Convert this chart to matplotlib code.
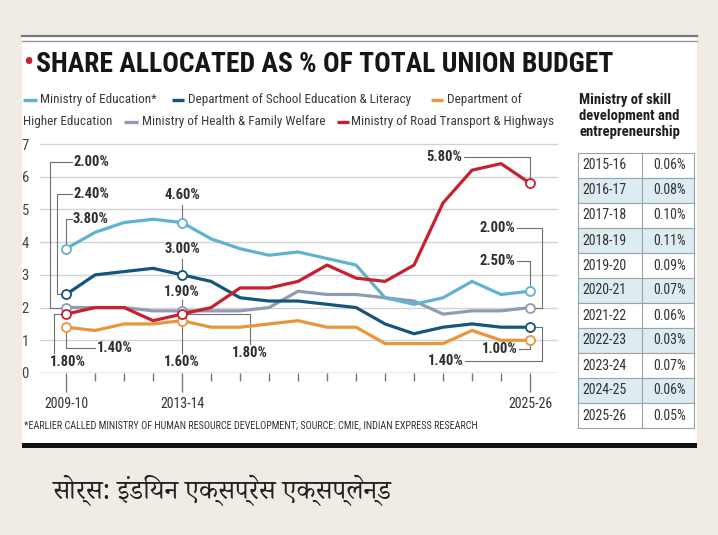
import matplotlib
matplotlib.use('Agg')
import matplotlib.pyplot as plt
from matplotlib import font_manager as fm
from matplotlib.ft2font import FT2Font
from matplotlib.patches import Rectangle
from matplotlib.lines import Line2D

# ---------------- data ----------------
years = ['2009-10', '2010-11', '2011-12', '2012-13', '2013-14', '2014-15', '2015-16',
         '2016-17', '2017-18', '2018-19', '2019-20', '2020-21', '2021-22', '2022-23',
         '2023-24', '2024-25', '2025-26']
edu = [3.8, 4.3, 4.6, 4.7, 4.6, 4.1, 3.8, 3.6, 3.7, 3.5, 3.3, 2.3, 2.1, 2.3, 2.8, 2.4, 2.5]
school = [2.4, 3.0, 3.1, 3.2, 3.0, 2.8, 2.3, 2.2, 2.2, 2.1, 2.0, 1.5, 1.2, 1.4, 1.5, 1.4, 1.4]
higher = [1.4, 1.3, 1.5, 1.5, 1.6, 1.4, 1.4, 1.5, 1.6, 1.4, 1.4, 0.9, 0.9, 0.9, 1.3, 1.0, 1.0]
health = [2.0, 2.0, 2.0, 1.9, 1.9, 1.9, 1.9, 2.0, 2.5, 2.4, 2.4, 2.3, 2.2, 1.8, 1.9, 1.9, 2.0]
road = [1.8, 2.0, 2.0, 1.6, 1.8, 2.0, 2.6, 2.6, 2.8, 3.3, 2.9, 2.8, 3.3, 5.2, 6.2, 6.4, 5.8]
shown_years = ['2009-10', '2013-14', '2025-26']
y_ticks = [0, 1, 2, 3, 4, 5, 6, 7]

skill_years = ['2015-16', '2016-17', '2017-18', '2018-19', '2019-20', '2020-21',
               '2021-22', '2022-23', '2023-24', '2024-25', '2025-26']
skill_vals = [0.06, 0.08, 0.10, 0.11, 0.09, 0.07, 0.06, 0.03, 0.07, 0.06, 0.05]

title = 'SHARE ALLOCATED AS % OF TOTAL UNION BUDGET'
legend_names = ['Ministry of Education*', 'Department of School Education & Literacy',
                'Department of Higher Education', 'Ministry of Health & Family Welfare',
                'Ministry of Road Transport & Highways']
footnote = '*EARLIER CALLED MINISTRY OF HUMAN RESOURCE DEVELOPMENT; SOURCE: CMIE, INDIAN EXPRESS RESEARCH'
table_title = 'Ministry of skill\ndevelopment and\nentrepreneurship'
source = 'सोर्स: इंडियन एक्सप्रेस एक्सप्लेन्ड'

# ---------------- styles ----------------
C_EDU, C_SCH, C_HIG, C_HEA, C_ROA = '#5fb3cf', '#15557b', '#e9963a', '#8f9bb6', '#c7202f'
BG = '#f1ece3'

avail = {f.name for f in fm.fontManager.ttflist}
def pick(*names):
    for n in names:
        if n in avail:
            return n
    return 'DejaVu Sans'
NARROW = pick('Liberation Sans Narrow', 'Roboto Condensed', 'Open Sans Condensed', 'Liberation Sans')

# find a font with Devanagari glyphs, preferring proportional sans/serif faces
deva_cands = []
for f in fm.fontManager.ttflist:
    try:
        if 0x0938 in FT2Font(f.fname).get_charmap():
            deva_cands.append(f.name)
    except Exception:
        pass
def deva_rank(n):
    low = n.lower()
    if 'devanagari' in low and 'serif' in low:
        return 0
    if 'devanagari' in low:
        return 1
    if 'lohit' in low or 'mukta' in low or 'gargi' in low:
        return 2
    if 'mono' in low:
        return 9
    return 5
deva_cands.sort(key=deva_rank)
DEVA = [deva_cands[0], 'DejaVu Sans'] if deva_cands else ['DejaVu Sans']

W, H = 718, 535
fig = plt.figure(figsize=(W / 100, H / 100), dpi=100)
fig.patch.set_facecolor(BG)

def fx(px):
    return px / W
def fy(py):
    return 1 - py / H

# panel
fig.add_artist(Rectangle((fx(22), fy(443)), fx(697) - fx(22), fy(35) - fy(443),
                         transform=fig.transFigure, facecolor='white', edgecolor='none', zorder=0))
fig.add_artist(Line2D([fx(22), fx(697)], [fy(35.5), fy(35.5)], transform=fig.transFigure,
                      color='#7a7a7a', lw=1.6))
fig.add_artist(Line2D([fx(22), fx(697)], [fy(40.5), fy(40.5)], transform=fig.transFigure,
                      color='#9a9a9a', lw=1.0))
fig.add_artist(Rectangle((fx(22), fy(448)), fx(697) - fx(22), fy(443) - fy(448),
                         transform=fig.transFigure, facecolor='#111111', edgecolor='none'))

renderer = fig.canvas.get_renderer()
def fit(t, width_px):
    w = t.get_window_extent(renderer).width
    t.set_fontsize(t.get_fontsize() * width_px / w)

# title
fig.text(fx(23), fy(64), '•', color='#c7202f', fontsize=20, ha='left', va='center',
         family=NARROW, fontweight='bold')
tt = fig.text(fx(36), fy(64), title, color='#161616', fontsize=20, ha='left', va='center',
              family=NARROW, fontweight='bold')
fit(tt, 577)

# legend (manual, two lines)
leg_items = [
    (C_EDU, 23, 37, 100, legend_names[0], 40),
    (C_SCH, 172, 184, 100, legend_names[1], 188),
    (C_HIG, 431, 443, 100, 'Department of', 447),
    (None, None, None, 122, 'Higher Education', 23),
    (C_HEA, 124, 138, 122, legend_names[3], 142),
    (C_ROA, 337, 349, 122, legend_names[4], 351),
]
leg_texts = []
for col, x0, x1, yy, txt, tx in leg_items:
    if col:
        fig.add_artist(Line2D([fx(x0), fx(x1)], [fy(yy), fy(yy)], transform=fig.transFigure,
                              color=col, lw=2.4, solid_capstyle='butt'))
    leg_texts.append(fig.text(fx(tx), fy(yy), txt, color='#3a3a3a', fontsize=9.5, family=NARROW,
                              ha='left', va='center'))
w = leg_texts[-1].get_window_extent(renderer).width
scale = 205 / w
for t in leg_texts:
    t.set_fontsize(t.get_fontsize() * scale)

# ---------------- axes ----------------
ax = fig.add_axes([fx(40), fy(373), fx(557) - fx(40), fy(144) - fy(373)])
ax.set_facecolor('none')
x = list(range(len(years)))
ax.set_xlim(-0.9, 16.93)
ax.set_ylim(0, 7)
for s in ax.spines.values():
    s.set_visible(False)
for v in y_ticks[1:]:
    ax.axhline(v, color='#d2d2d2', lw=1.0, zorder=1, clip_on=False)
ax.axhline(0, color='#8a8a8a', lw=1.0, zorder=1)
ax.set_yticks(y_ticks)
ax.set_yticklabels([str(v) for v in y_ticks], family=NARROW, fontsize=10.5, color='#444444')
ax.tick_params(axis='y', length=0, pad=8)
major = [years.index(y) for y in shown_years]
ax.set_xticks(major)
ax.set_xticklabels(shown_years, family=NARROW, fontsize=10, color='#333333')
ax.set_xticks([i for i in x if i not in major], minor=True)
ax.tick_params(axis='x', which='major', length=14, width=1, color='#777777', pad=3)
ax.tick_params(axis='x', which='minor', length=6, width=1, color='#777777')

series = [(health, C_HEA), (higher, C_HIG), (school, C_SCH), (edu, C_EDU), (road, C_ROA)]
for vals, col in series:
    ax.plot(x, vals, color=col, lw=2.3, zorder=3, solid_joinstyle='round',
            marker='o', markevery=major, markersize=6.5, markerfacecolor='white',
            markeredgecolor=col, markeredgewidth=1.3, clip_on=False)

# annotations: (series, index, elbow points after the data point, text pos, ha)
ann = [
    (health, 0, [(-0.55, None), (-0.55, 6.44), (0.2, 6.44)], (0.24, 6.44), 'left', 'center'),
    (school, 0, [(-0.31, None), (-0.31, 5.47), (0.2, 5.47)], (0.24, 5.47), 'left', 'center'),
    (edu, 0, [(0, 4.7), (0.2, 4.7)], (0.24, 4.7), 'left', 'center'),
    (edu, 4, [(4, 5.15)], (4, 5.44), 'center', 'center'),
    (school, 4, [(4, 3.5)], (4, 3.78), 'center', 'center'),
    (health, 4, [(4, 2.22)], (4, 2.47), 'center', 'center'),
    (road, 0, [(-0.4, None), (-0.4, 0.62)], (0.07, 0.33), 'center', 'center'),
    (higher, 0, [(0, 0.76), (1.0, 0.76)], (1.05, 0.76), 'left', 'center'),
    (higher, 4, [(4, 0.62)], (4, 0.35), 'center', 'center'),
    (road, 4, [(6.34, None), (6.34, 0.9)], (6.34, 0.6), 'center', 'center'),
    (road, 16, [(16, 6.59), (13.72, 6.59)], (13.66, 6.59), 'right', 'center'),
    (health, 16, [(16.4, None), (16.4, 4.43), (15.55, 4.43)], (15.5, 4.43), 'right', 'center'),
    (edu, 16, [(16, 3.41), (15.55, 3.41)], (15.5, 3.41), 'right', 'center'),
    (higher, 16, [(16, 0.74), (15.62, 0.74)], (15.57, 0.74), 'right', 'center'),
    (school, 16, [(16.4, None), (16.4, 0.36), (13.75, 0.36)], (13.7, 0.36), 'right', 'center'),
]
for vals, i, elbows, tpos, ha, va in ann:
    px, py = [i], [vals[i]]
    for ex, ey in elbows:
        px.append(ex)
        py.append(vals[i] if ey is None else ey)
    ax.plot(px, py, color='#707070', lw=0.8, zorder=2, clip_on=False)
    ax.text(tpos[0], tpos[1], f'{vals[i]:.2f}%', ha=ha, va=va, fontsize=10.5,
            family=NARROW, fontweight='bold', color='#2e2e2e', zorder=4)

# footnote
ft = fig.text(fx(24), fy(425), footnote, color='#333333', fontsize=7, family=NARROW,
              ha='left', va='center')
fit(ft, 458)

# ---------------- table ----------------
fig.text(fx(579), fy(116), table_title, color='#1e1e1e', fontsize=10.5, family=NARROW,
         fontweight='bold', ha='left', va='center', linespacing=1.15)
T_L, T_M, T_R, T_TOP, ROW = 578, 642, 694, 153, 25
for k, (yr, v) in enumerate(zip(skill_years, skill_vals)):
    top = T_TOP + k * ROW
    fc = '#dcecf1' if k % 2 == 1 else 'white'
    fig.add_artist(Rectangle((fx(T_L), fy(top + ROW)), fx(T_R) - fx(T_L), fy(top) - fy(top + ROW),
                             transform=fig.transFigure, facecolor=fc, edgecolor='#9aa3a8', lw=0.8))
    fig.add_artist(Line2D([fx(T_M), fx(T_M)], [fy(top), fy(top + ROW)], transform=fig.transFigure,
                          color='#9aa3a8', lw=0.8))
    fig.text(fx(582), fy(top + ROW / 2), yr, fontsize=10, family=NARROW, color='#333333',
             ha='left', va='center')
    fig.text(fx(670), fy(top + ROW / 2), f'{v:.2f}%', fontsize=10, family=NARROW, color='#333333',
             ha='center', va='center')

# source line
st = fig.text(fx(52), fy(490), source, color='#222222', fontsize=17, family=DEVA,
              ha='left', va='center')
fit(st, 338)

fig.savefig('out.png', dpi=100, facecolor=BG)
